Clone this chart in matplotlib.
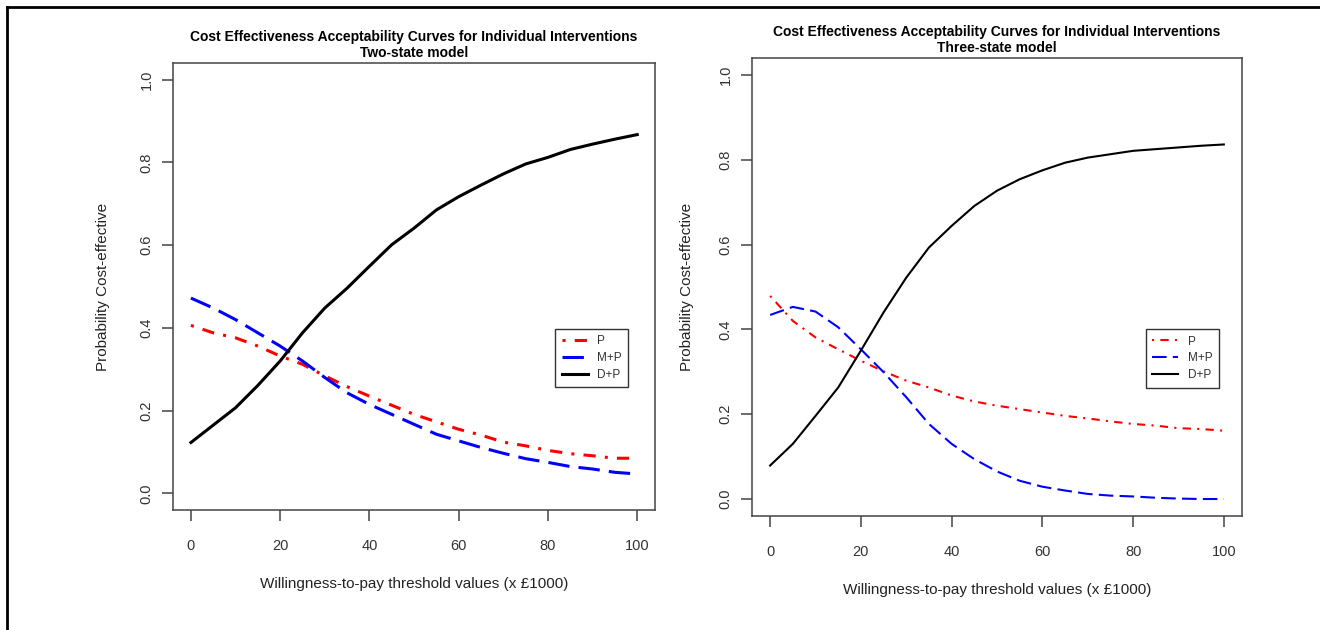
import matplotlib
matplotlib.use("Agg")
import matplotlib.pyplot as plt
from matplotlib.lines import Line2D

plt.rcParams["font.family"] = ["Liberation Sans", "DejaVu Sans"]

# willingness-to-pay thresholds (x £1000)
wtp = [0, 5, 10, 15, 20, 25, 30, 35, 40, 45, 50, 55, 60, 65, 70, 75, 80, 85, 90, 95, 100]

# two-state model
two_p = [0.406, 0.388, 0.376, 0.356, 0.332, 0.312, 0.284, 0.258, 0.235, 0.213, 0.191,
         0.173, 0.155, 0.141, 0.124, 0.115, 0.104, 0.096, 0.091, 0.085, 0.085]
two_mp = [0.472, 0.448, 0.420, 0.388, 0.356, 0.320, 0.280, 0.243, 0.215, 0.191, 0.167,
          0.143, 0.127, 0.111, 0.097, 0.084, 0.075, 0.065, 0.059, 0.051, 0.047]
two_dp = [0.123, 0.165, 0.207, 0.261, 0.320, 0.388, 0.448, 0.496, 0.549, 0.601, 0.641,
          0.685, 0.717, 0.745, 0.772, 0.796, 0.812, 0.831, 0.844, 0.856, 0.867]

# three-state model
three_p = [0.479, 0.420, 0.381, 0.353, 0.326, 0.301, 0.279, 0.263, 0.244, 0.230, 0.220,
           0.212, 0.204, 0.196, 0.190, 0.183, 0.177, 0.173, 0.167, 0.165, 0.161]
three_mp = [0.434, 0.453, 0.442, 0.405, 0.353, 0.299, 0.240, 0.177, 0.130, 0.094, 0.065,
            0.043, 0.029, 0.020, 0.012, 0.008, 0.006, 0.003, 0.001, 0.000, 0.000]
three_dp = [0.079, 0.130, 0.196, 0.263, 0.350, 0.440, 0.522, 0.593, 0.644, 0.691, 0.727,
            0.754, 0.775, 0.793, 0.805, 0.813, 0.821, 0.825, 0.829, 0.833, 0.836]

labels = ["P", "M+P", "D+P"]
x_ticks = [0, 20, 40, 60, 80, 100]
y_ticks = [0.0, 0.2, 0.4, 0.6, 0.8, 1.0]

fig = plt.figure(figsize=(13.2, 6.3), dpi=100)

ax1 = fig.add_axes([0.1311, 0.1905, 0.3652, 0.7095])
ax2 = fig.add_axes([0.5697, 0.181, 0.3712, 0.727])

panels = [
    (ax1, "Two-state model", two_p, two_mp, two_dp, 2.2, (0.793, 0.405), 21),
    (ax2, "Three-state model", three_p, three_mp, three_dp, 1.5, (0.804, 0.408), 18),
]

for ax, subtitle, p, mp, dp, lw, leg_pos, ylpad in panels:
    ax.plot(wtp, p, color="red", lw=lw, dashes=(1, 3, 4, 3), label=labels[0])
    ax.plot(wtp, mp, color="blue", lw=lw, dashes=(7, 3), label=labels[1])
    ax.plot(wtp, dp, color="black", lw=lw, label=labels[2])

    ax.set_xlim(-4, 104)
    ax.set_ylim(-0.04, 1.04)
    ax.set_xticks(x_ticks)
    ax.set_yticks(y_ticks)
    ax.set_xticklabels([str(v) for v in x_ticks])
    ax.set_yticklabels([f"{v:.1f}" for v in y_ticks], rotation=90, va="center")
    ax.tick_params(direction="out", length=8, width=1.1, color="#444",
                   labelcolor="#333", labelsize=10.5)
    ax.tick_params(axis="x", pad=13)
    ax.tick_params(axis="y", pad=6)
    for sp in ax.spines.values():
        sp.set_color("#444")
        sp.set_linewidth(1.1)

    ax.set_title("Cost Effectiveness Acceptability Curves for Individual Interventions\n"
                 + subtitle, fontsize=10, fontweight="bold", pad=4, linespacing=1.25)
    ax.set_xlabel("Willingness-to-pay threshold values (x £1000)", fontsize=11,
                  color="#222", labelpad=17)
    ax.set_ylabel("Probability Cost-effective", fontsize=11, color="#222", labelpad=ylpad)

    leg = ax.legend(loc="upper left", bbox_to_anchor=leg_pos, fontsize=8.5,
                    fancybox=False, edgecolor="#333", framealpha=1,
                    borderpad=0.55, handlelength=2.2, handletextpad=0.8,
                    labelspacing=0.4, borderaxespad=0)
    leg.get_frame().set_linewidth(1.0)
    for t in leg.get_texts():
        t.set_color("#333")

# outer frame lines (top and left)
fig.add_artist(Line2D([7 / 1320, 1.0], [1 - 7 / 630, 1 - 7 / 630],
                      transform=fig.transFigure, color="black", lw=2))
fig.add_artist(Line2D([7 / 1320, 7 / 1320], [0.0, 1 - 7 / 630],
                      transform=fig.transFigure, color="black", lw=2))

fig.savefig("out.png", dpi=100)
